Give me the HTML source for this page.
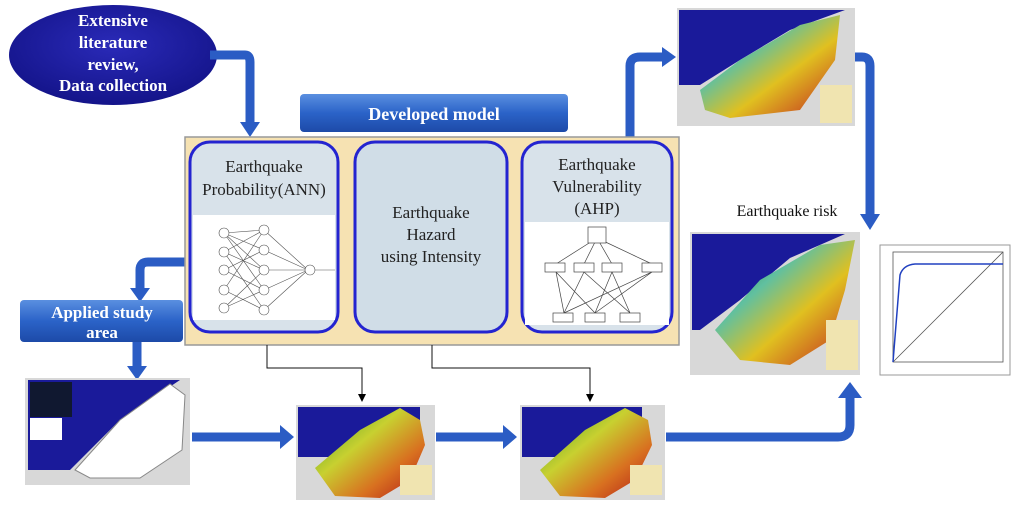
<!DOCTYPE html>
<html><head><meta charset="utf-8"><style>
body{margin:0;background:#fff;}
svg{display:block;font-family:"Liberation Serif",serif;}
</style></head><body>
<svg width="1024" height="509" viewBox="0 0 1024 509" xmlns="http://www.w3.org/2000/svg">
<defs>
<radialGradient id="eg" cx="50%" cy="40%" r="60%"><stop offset="0" stop-color="#2a2ab8"/><stop offset="1" stop-color="#14148a"/></radialGradient>
<linearGradient id="bg" x1="0" y1="0" x2="0" y2="1"><stop offset="0" stop-color="#5a8fe0"/><stop offset="0.5" stop-color="#2b63c8"/><stop offset="1" stop-color="#1d4aa8"/></linearGradient>
<linearGradient id="mg" x1="0" y1="0" x2="1" y2="1"><stop offset="0" stop-color="#3a9a2a"/><stop offset="0.4" stop-color="#c8d030"/><stop offset="0.7" stop-color="#d87020"/><stop offset="1" stop-color="#b01818"/></linearGradient>
<linearGradient id="rg" x1="0" y1="0" x2="1" y2="1"><stop offset="0" stop-color="#206a20"/><stop offset="0.35" stop-color="#60c0a0"/><stop offset="0.6" stop-color="#e0c020"/><stop offset="1" stop-color="#c02020"/></linearGradient>
<marker id="ah" markerWidth="8" markerHeight="8" refX="4" refY="4" orient="auto"><path d="M0,0 L8,4 L0,8z" fill="#000"/></marker>
</defs>

<!-- ellipse -->
<ellipse cx="113" cy="55" rx="104" ry="50" fill="url(#eg)"/>
<g fill="#fff" font-weight="bold" font-size="17" text-anchor="middle">
<text x="113" y="26">Extensive</text><text x="113" y="48">literature</text><text x="113" y="70">review,</text><text x="113" y="91">Data collection</text></g>

<!-- thick arrows -->
<g fill="none" stroke="#2b5cc4" stroke-width="9" stroke-linejoin="round">
<path d="M210,55 H245 Q250,55 250,62 V125"/>
<path d="M186,262 H148 Q140,262 140,270 V290"/>
<path d="M137,342 V370"/>
<path d="M630,137 V66 Q630,57 640,57 H664"/>
<path d="M838,57 H862 Q870,57 870,66 V218"/>
<path d="M192,437 H282"/>
<path d="M436,437 H505"/>
<path d="M666,437 H838 Q850,437 850,425 V395"/>
</g>
<g fill="#2b5cc4">
<path d="M240,122 H260 L250,137z"/>
<path d="M130,288 H150 L140,302z"/>
<path d="M127,366 H147 L137,380z"/>
<path d="M662,47 V67 L676,57z"/>
<path d="M860,214 H880 L870,230z"/>
<path d="M280,425 V449 L294,437z"/>
<path d="M503,425 V449 L517,437z"/>
<path d="M838,398 H862 L850,382z"/>
</g>

<!-- developed model -->
<rect x="300" y="94" width="268" height="38" rx="4" fill="url(#bg)"/>
<text x="434" y="120" fill="#fff" font-weight="bold" font-size="18" text-anchor="middle">Developed model</text>

<!-- panel -->
<rect x="185" y="137" width="494" height="208" fill="#f6e2b2" stroke="#999" stroke-width="1.5"/>
<rect x="190" y="142" width="148" height="190" rx="20" fill="#d8e2ea" stroke="#2424d0" stroke-width="3"/>
<rect x="193" y="215" width="142" height="105" fill="#fff"/>
<rect x="355" y="142" width="152" height="190" rx="20" fill="#d0dde7" stroke="#2424d0" stroke-width="3"/>
<rect x="522" y="142" width="150" height="190" rx="20" fill="#d8e2ea" stroke="#2424d0" stroke-width="3"/>
<rect x="525" y="222" width="144" height="103" fill="#fff"/>
<g fill="#222" font-size="17" text-anchor="middle">
<text x="264" y="172">Earthquake</text><text x="264" y="195">Probability(ANN)</text>
<text x="431" y="218">Earthquake</text><text x="431" y="240">Hazard</text><text x="431" y="262">using Intensity</text>
<text x="597" y="170">Earthquake</text><text x="597" y="192">Vulnerability</text><text x="597" y="214">(AHP)</text>
</g>
<!-- ANN -->
<g stroke="#555" stroke-width="0.6" fill="#fff">
<path d="M224,233 L264,230 M224,233 L264,250 M224,233 L264,270 M224,233 L264,290 M224,252 L264,230 M224,252 L264,270 M224,252 L264,310 M224,270 L264,250 M224,270 L264,290 M224,290 L264,230 M224,290 L264,310 M224,308 L264,270 M224,308 L264,290 M264,230 L308,270 M264,250 L308,270 M264,270 L308,270 M264,290 L308,270 M264,310 L308,270 M308,270 H335"/>
<circle cx="224" cy="233" r="5"/><circle cx="224" cy="252" r="5"/><circle cx="224" cy="270" r="5"/><circle cx="224" cy="290" r="5"/><circle cx="224" cy="308" r="5"/>
<circle cx="264" cy="230" r="5"/><circle cx="264" cy="250" r="5"/><circle cx="264" cy="270" r="5"/><circle cx="264" cy="290" r="5"/><circle cx="264" cy="310" r="5"/>
<circle cx="310" cy="270" r="5"/>
</g>
<!-- AHP -->
<g stroke="#444" stroke-width="0.7" fill="#fff">
<path d="M597,238 L556,264 M597,238 L584,264 M597,238 L612,264 M597,238 L652,264 M556,272 L564,313 M556,272 L595,313 M584,272 L630,313 M584,272 L564,313 M612,272 L595,313 M612,272 L630,313 M652,272 L595,313 M652,272 L564,313"/>
<rect x="588" y="227" width="18" height="16"/>
<rect x="545" y="263" width="20" height="9"/><rect x="574" y="263" width="20" height="9"/><rect x="602" y="263" width="20" height="9"/><rect x="642" y="263" width="20" height="9"/>
<rect x="553" y="313" width="20" height="9"/><rect x="585" y="313" width="20" height="9"/><rect x="620" y="313" width="20" height="9"/>
</g>

<!-- applied study area -->
<rect x="20" y="300" width="163" height="42" rx="4" fill="url(#bg)"/>
<text x="102" y="318" fill="#fff" font-weight="bold" font-size="17" text-anchor="middle">Applied study</text>
<text x="102" y="338" fill="#fff" font-weight="bold" font-size="17" text-anchor="middle">area</text>

<!-- thin lines -->
<g stroke="#111" stroke-width="1" fill="none">
<path d="M267,345 V368 H362 V398" marker-end="url(#ah)"/>
<path d="M432,345 V368 H590 V398" marker-end="url(#ah)"/>
</g>

<!-- map1 -->
<rect x="25" y="378" width="165" height="107" fill="#d8d8d8"/>
<path d="M28,380 H180 L120,420 L70,470 H28z" fill="#1a1a9a"/>
<path d="M75,470 L120,420 L170,384 L185,395 L182,450 L140,478 L90,478z" fill="#fff" stroke="#888"/>
<rect x="30" y="382" width="42" height="35" fill="#101830"/>
<rect x="30" y="418" width="32" height="22" fill="#fff"/>
<!-- map2 -->
<rect x="296" y="405" width="139" height="95" fill="#d8d8d8"/>
<rect x="298" y="407" width="122" height="50" fill="#1a1a9a"/>
<path d="M315,468 L360,430 L400,408 L420,420 L425,445 L410,480 L380,498 L335,496z" fill="url(#mg)"/>
<rect x="400" y="465" width="32" height="30" fill="#f0e4b0"/>
<!-- map3 -->
<rect x="520" y="405" width="145" height="95" fill="#d8d8d8"/>
<rect x="522" y="407" width="120" height="50" fill="#1a1a9a"/>
<path d="M540,470 L585,430 L625,408 L648,420 L652,445 L635,480 L605,498 L560,496z" fill="url(#mg)"/>
<rect x="630" y="465" width="32" height="30" fill="#f0e4b0"/>
<!-- top map -->
<rect x="677" y="8" width="178" height="118" fill="#d8d8d8"/>
<path d="M679,10 H845 L790,30 L740,60 L700,85 H679z" fill="#1a1a9a"/>
<path d="M700,90 L740,60 L800,25 L840,15 L835,60 L800,110 L730,118 L705,110z" fill="url(#rg)"/>
<rect x="820" y="85" width="32" height="38" fill="#f0e4b0"/>
<!-- risk -->
<text x="787" y="216" fill="#111" font-size="16" text-anchor="middle">Earthquake risk</text>
<rect x="690" y="232" width="170" height="143" fill="#d8d8d8"/>
<path d="M692,234 H845 L790,258 L740,300 L700,330 H692z" fill="#1a1a9a"/>
<path d="M715,330 L760,280 L820,245 L855,240 L845,290 L830,340 L790,365 L740,360z" fill="url(#rg)"/>
<rect x="826" y="320" width="32" height="50" fill="#f0e4b0"/>
<!-- chart -->
<rect x="880" y="245" width="130" height="130" fill="#fff" stroke="#999"/>
<rect x="893" y="252" width="110" height="110" fill="none" stroke="#555" stroke-width="0.8"/>
<path d="M893,362 L1003,252" stroke="#555" stroke-width="0.8"/>
<path d="M893,362 L900,275 Q903,265 915,264 H1003" stroke="#2040c0" stroke-width="1.5" fill="none"/>
<rect x="960" y="335" width="40" height="12" fill="#fff"/>
</svg>
</body></html>
